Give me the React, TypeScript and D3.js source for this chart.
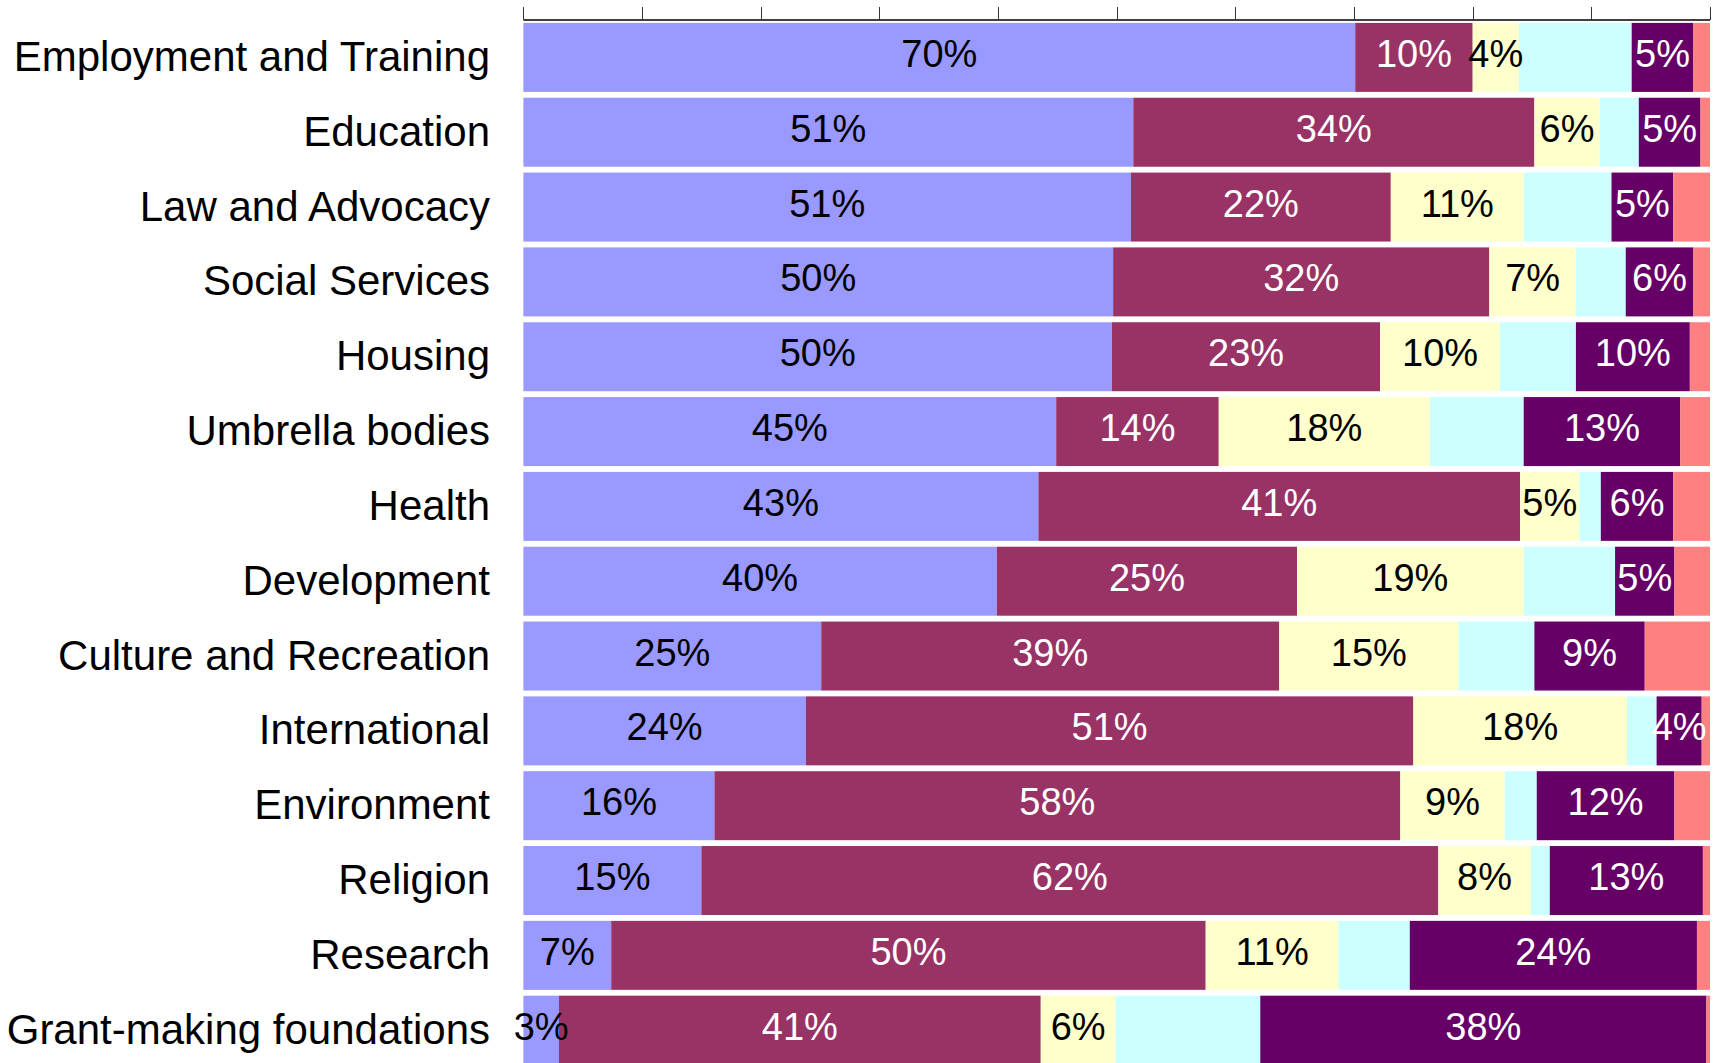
import React from "react";
import * as d3 from "d3";

const categories = [
  "Employment and Training",
  "Education",
  "Law and Advocacy",
  "Social Services",
  "Housing",
  "Umbrella bodies",
  "Health",
  "Development",
  "Culture and Recreation",
  "International",
  "Environment",
  "Religion",
  "Research",
  "Grant-making foundations",
];

const series1 = [70.1, 51.4, 51.2, 49.7, 49.6, 44.9, 43.4, 39.9, 25.1, 23.8, 16.1, 15.0, 7.4, 3.0];
const series2 = [9.9, 33.8, 21.9, 31.7, 22.6, 13.7, 40.6, 25.3, 38.6, 51.2, 57.8, 62.1, 50.1, 40.6];
const series3 = [3.9, 5.5, 11.2, 7.3, 10.1, 17.8, 5.0, 19.1, 15.1, 18.0, 8.8, 7.8, 11.2, 6.3];
const series4 = [9.5, 3.3, 7.4, 4.2, 6.4, 7.9, 1.8, 7.7, 6.4, 2.5, 2.7, 1.6, 6.0, 12.2];
const series5 = [5.2, 5.2, 5.2, 5.7, 9.6, 13.2, 6.1, 5.0, 9.3, 3.8, 11.6, 12.9, 24.2, 37.6];
const series6 = [1.4, 0.8, 3.1, 1.4, 1.7, 2.5, 3.1, 3.0, 5.5, 0.7, 3.0, 0.6, 1.1, 0.3];

const seriesList = [series1, series2, series3, series4, series5, series6];
const colors = ["#9999FF", "#993366", "#FFFFCC", "#CCFFFF", "#660066", "#FF8080"];
const labelColors = ["#000000", "#FFFFFF", "#000000", null, "#FFFFFF", null];
const tickValues = [0, 10, 20, 30, 40, 50, 60, 70, 80, 90, 100];

const W = 1722;
const H = 1063;
const plotLeft = 523.4;
const plotRight = 1710;
const plotTop = 20;
const plotBottom = 1067.6;

export default function App() {
  const x = d3.scaleLinear().domain([0, 100]).range([plotLeft, plotRight]);
  const y = d3
    .scaleBand<string>()
    .domain(categories)
    .range([plotTop, plotBottom])
    .paddingInner(0.078)
    .paddingOuter(0.039);
  const bw = y.bandwidth();

  const rows = categories.map((c, i) => {
    let acc = 0;
    return seriesList.map((s, k) => {
      const v = s[i];
      const seg = { k, v, x0: acc, x1: acc + v };
      acc += v;
      return seg;
    });
  });

  const font = "'Liberation Sans', Arial, Helvetica, sans-serif";

  return (
    <svg width={W} height={H} style={{ display: "block", position: "absolute", left: 0, top: 0, background: "#fff" }} fontFamily={font}>
      <style>{`body{margin:0}`}</style>
      <rect x={0} y={0} width={W} height={H} fill="#fff" />
      {rows.map((segs, i) => {
        const yy = y(categories[i]) as number;
        return (
          <g key={categories[i]}>
            {segs.map((s) => (
              <rect
                key={s.k}
                x={x(s.x0)}
                y={yy}
                width={Math.max(0, x(s.x1) - x(s.x0))}
                height={bw}
                fill={colors[s.k]}
              />
            ))}
          </g>
        );
      })}
      {rows.map((segs, i) => {
        const yy = y(categories[i]) as number;
        const cy = yy + bw / 2;
        return (
          <g key={"l" + categories[i]}>
            {segs.map((s) =>
              labelColors[s.k] ? (
                <text
                  key={s.k}
                  x={(x(s.x0) + x(s.x1)) / 2}
                  y={cy + 9.5}
                  textAnchor="middle"
                  fontSize={38}
                  fill={labelColors[s.k] as string}
                >
                  {Math.round(s.v) + "%"}
                </text>
              ) : null
            )}
            <text x={490} y={cy + 13.5} textAnchor="end" fontSize={42} fill="#000">
              {categories[i]}
            </text>
          </g>
        );
      })}
      <line x1={plotLeft} x2={plotRight} y1={plotTop} y2={plotTop} stroke="#000" strokeWidth={1.5} />
      {tickValues.map((t) => (
        <line
          key={t}
          x1={Math.round(x(t)) + 0.5}
          x2={Math.round(x(t)) + 0.5}
          y1={plotTop - 13}
          y2={plotTop}
          stroke="#333"
          strokeWidth={1}
        />
      ))}
    </svg>
  );
}
